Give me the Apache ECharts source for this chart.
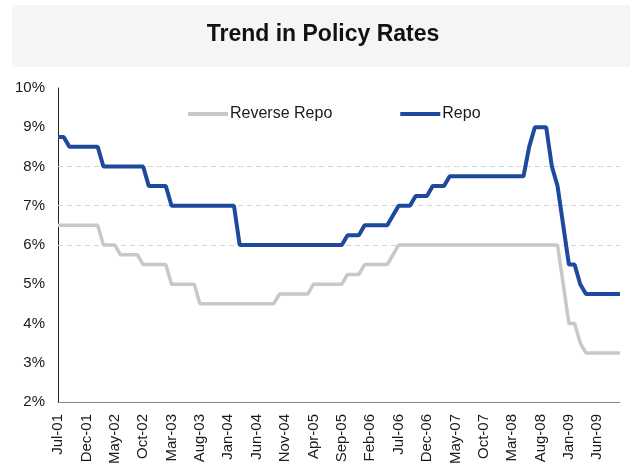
<!DOCTYPE html>
<html>
<head>
<meta charset="utf-8">
<script src="https://cdn.jsdelivr.net/npm/echarts@6/dist/echarts.min.js"></script>
<style>
html,body{margin:0;padding:0;background:#fff;}
#chart{width:630px;height:467px;}
</style>
</head>
<body>
<div id="chart"></div>
<script>
var titleText = 'Trend in Policy Rates';

var months = [
  'Jul-01','Aug-01','Sep-01','Oct-01','Nov-01','Dec-01',
  'Jan-02','Feb-02','Mar-02','Apr-02','May-02','Jun-02','Jul-02','Aug-02','Sep-02','Oct-02','Nov-02','Dec-02',
  'Jan-03','Feb-03','Mar-03','Apr-03','May-03','Jun-03','Jul-03','Aug-03','Sep-03','Oct-03','Nov-03','Dec-03',
  'Jan-04','Feb-04','Mar-04','Apr-04','May-04','Jun-04','Jul-04','Aug-04','Sep-04','Oct-04','Nov-04','Dec-04',
  'Jan-05','Feb-05','Mar-05','Apr-05','May-05','Jun-05','Jul-05','Aug-05','Sep-05','Oct-05','Nov-05','Dec-05',
  'Jan-06','Feb-06','Mar-06','Apr-06','May-06','Jun-06','Jul-06','Aug-06','Sep-06','Oct-06','Nov-06','Dec-06',
  'Jan-07','Feb-07','Mar-07','Apr-07','May-07','Jun-07','Jul-07','Aug-07','Sep-07','Oct-07','Nov-07','Dec-07',
  'Jan-08','Feb-08','Mar-08','Apr-08','May-08','Jun-08','Jul-08','Aug-08','Sep-08','Oct-08','Nov-08','Dec-08',
  'Jan-09','Feb-09','Mar-09','Apr-09','May-09','Jun-09','Jul-09','Aug-09','Sep-09','Oct-09'
];

var reverseRepo = [
  6.5,6.5,6.5,6.5,6.5,6.5,
  6.5,6.5,6.0,6.0,6.0,5.75,5.75,5.75,5.75,5.5,5.5,5.5,
  5.5,5.5,5.0,5.0,5.0,5.0,5.0,4.5,4.5,4.5,4.5,4.5,
  4.5,4.5,4.5,4.5,4.5,4.5,4.5,4.5,4.5,4.75,4.75,4.75,
  4.75,4.75,4.75,5.0,5.0,5.0,5.0,5.0,5.0,5.25,5.25,5.25,
  5.5,5.5,5.5,5.5,5.5,5.75,6.0,6.0,6.0,6.0,6.0,6.0,
  6.0,6.0,6.0,6.0,6.0,6.0,6.0,6.0,6.0,6.0,6.0,6.0,
  6.0,6.0,6.0,6.0,6.0,6.0,6.0,6.0,6.0,6.0,6.0,5.0,
  4.0,4.0,3.5,3.25,3.25,3.25,3.25,3.25,3.25,3.25
];

var repo = [
  8.75,8.75,8.5,8.5,8.5,8.5,
  8.5,8.5,8.0,8.0,8.0,8.0,8.0,8.0,8.0,8.0,7.5,7.5,
  7.5,7.5,7.0,7.0,7.0,7.0,7.0,7.0,7.0,7.0,7.0,7.0,
  7.0,7.0,6.0,6.0,6.0,6.0,6.0,6.0,6.0,6.0,6.0,6.0,
  6.0,6.0,6.0,6.0,6.0,6.0,6.0,6.0,6.0,6.25,6.25,6.25,
  6.5,6.5,6.5,6.5,6.5,6.75,7.0,7.0,7.0,7.25,7.25,7.25,
  7.5,7.5,7.5,7.75,7.75,7.75,7.75,7.75,7.75,7.75,7.75,7.75,
  7.75,7.75,7.75,7.75,7.75,8.5,9.0,9.0,9.0,8.0,7.5,6.5,
  5.5,5.5,5.0,4.75,4.75,4.75,4.75,4.75,4.75,4.75
];

var gridLevels = [6, 7, 8];

var FONT = '"Liberation Sans", Arial, sans-serif';

var chart = echarts.init(document.getElementById('chart'), null, {renderer: 'canvas'});
chart.setOption({
  animation: false,
  backgroundColor: '#ffffff',
  textStyle: {fontFamily: FONT},
  graphic: [
    {
      type: 'rect', left: 12, top: 5, z: -10,
      shape: {width: 618, height: 62},
      style: {fill: '#f5f5f5'}
    },
    {
      type: 'text', x: 323, y: 35, z: 10,
      style: {
        text: titleText,
        font: 'bold 23px ' + FONT,
        fill: '#111111',
        align: 'center',
        verticalAlign: 'middle'
      }
    }
  ],
  legend: {
    data: ['Reverse Repo', 'Repo'],
    left: 183,
    top: 101,
    icon: 'rect',
    itemWidth: 40,
    itemHeight: 4,
    itemGap: 68,
    textStyle: {fontSize: 16, color: '#1a1a1a', fontFamily: FONT, padding: [0, 0, 0, -3]}
  },
  grid: {left: 58, right: 10, top: 88, bottom: 65, containLabel: false},
  xAxis: {
    type: 'category',
    data: months,
    boundaryGap: false,
    axisLine: {show: true, lineStyle: {color: '#8a8a8a', width: 1}},
    axisTick: {show: false},
    splitLine: {show: false},
    axisLabel: {
      rotate: 90,
      interval: 4,
      margin: 12,
      fontSize: 15,
      color: '#1a1a1a',
      fontFamily: FONT
    }
  },
  yAxis: {
    type: 'value',
    min: 2,
    max: 10,
    interval: 1,
    axisLine: {show: true, lineStyle: {color: '#222222', width: 1}},
    axisTick: {show: false},
    splitLine: {show: false},
    axisLabel: {
      formatter: '{value}%',
      fontSize: 15,
      margin: 13,
      color: '#1a1a1a',
      fontFamily: FONT
    }
  },
  series: [
    {
      name: 'Reverse Repo',
      type: 'line',
      data: reverseRepo,
      symbol: 'none',
      lineStyle: {color: '#c8c8c8', width: 3.5},
      itemStyle: {color: '#c8c8c8'},
      z: 2,
      markLine: {
        silent: true,
        symbol: 'none',
        label: {show: false},
        lineStyle: {type: [5, 4], color: '#d4d4d4', width: 1},
        data: gridLevels.map(function (v) { return {yAxis: v}; }),
        z: 1
      }
    },
    {
      name: 'Repo',
      type: 'line',
      data: repo,
      symbol: 'none',
      lineStyle: {color: '#1d4a9c', width: 4},
      itemStyle: {color: '#1d4a9c'},
      z: 3
    }
  ]
});
</script>
</body>
</html>
